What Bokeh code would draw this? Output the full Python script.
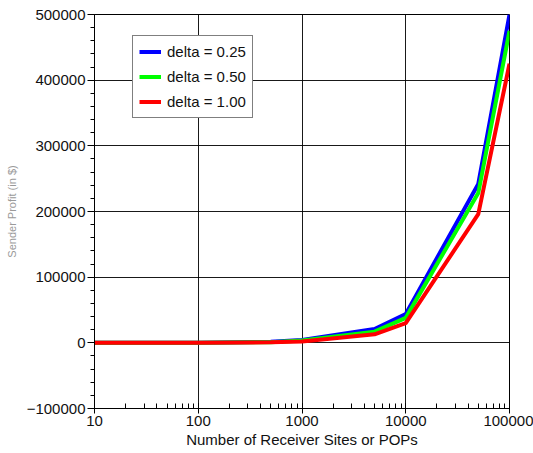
import math
from bokeh.plotting import figure
from bokeh.models import (Range1d, SingleIntervalTicker, LogTicker, BasicTickFormatter,
                          PrintfTickFormatter, Legend, LegendItem)
from bokeh.embed import file_html
from bokeh.resources import INLINE

# Data
receivers = [10, 100, 500, 1000, 5000, 10000, 50000, 100000]
profit_d025 = [0, 200, 1500, 4500, 21000, 44000, 242000, 500000]
profit_d050 = [0, 150, 1000, 3500, 17000, 38000, 228000, 475000]
profit_d100 = [0, 100, 700, 2000, 13000, 30000, 196000, 425000]
series_labels = ["delta = 0.25", "delta = 0.50", "delta = 1.00"]
series_colors = ["#0000ff", "#00ff00", "#ff0000"]
x_label = "Number of Receiver Sites or POPs"
y_label = "Sender Profit (in $)"

FONT = "Liberation Sans"

p = figure(width=533, height=453, x_axis_type="log",
           x_range=Range1d(10, 100000), y_range=Range1d(-100000, 500000),
           output_backend="svg", toolbar_location=None,
           min_border_left=94, min_border_right=24, min_border_top=14, min_border_bottom=45)
p.outline_line_color = "black"
p.background_fill_color = "white"
p.border_fill_color = "white"

# axes
xa = p.xaxis[0]
xa.ticker = LogTicker(num_minor_ticks=10)
xa.formatter = PrintfTickFormatter(format="%d")
xa.major_tick_in = 5
xa.major_tick_out = 5
xa.minor_tick_in = 5
xa.minor_tick_out = 0
xa.major_label_standoff = 2
xa.axis_label = x_label
xa.axis_label_standoff = 2
xa.axis_label_text_font = FONT
xa.axis_label_text_font_size = "15px"
xa.axis_label_text_font_style = "normal"
xa.axis_label_text_color = "#111111"

ya = p.yaxis[0]
ya.ticker = SingleIntervalTicker(interval=100000, num_minor_ticks=5)
ya.formatter = BasicTickFormatter(use_scientific=False)
ya.major_tick_in = 0
ya.major_tick_out = 7
ya.minor_tick_in = 0
ya.minor_tick_out = 4
ya.major_label_standoff = 2
ya.axis_label = y_label
ya.axis_label_standoff = 6
ya.axis_label_text_font = FONT
ya.axis_label_text_font_size = "11px"
ya.axis_label_text_font_style = "normal"
ya.axis_label_text_color = "#9a9a9a"

for ax in (xa, ya):
    ax.axis_line_color = "black"
    ax.major_tick_line_color = "black"
    ax.minor_tick_line_color = "black"
    ax.major_label_text_font = FONT
    ax.major_label_text_font_size = "15px"
    ax.major_label_text_color = "#111111"

for g in (p.xgrid[0], p.ygrid[0]):
    g.grid_line_color = "black"
    g.grid_line_width = 1
    g.grid_line_alpha = 0.9

renderers = []
for ys, c in zip([profit_d025, profit_d050, profit_d100], series_colors):
    r = p.line(receivers, ys, line_color=c, line_width=4)
    renderers.append(r)

legend = Legend(items=[LegendItem(label=l, renderers=[r]) for l, r in zip(series_labels, renderers)],
                location=(38, 290))
legend.label_text_font = FONT
legend.label_text_font_size = "15px"
legend.label_text_color = "#111111"
legend.border_line_color = "black"
legend.border_line_width = 1
legend.background_fill_alpha = 1
legend.padding = 6
legend.spacing = 6
legend.margin = 0
legend.label_height = 19
legend.glyph_height = 19
legend.glyph_width = 22
legend.label_standoff = 6
p.add_layout(legend, "center")

open("out.html", "w").write(file_html(p, INLINE))
